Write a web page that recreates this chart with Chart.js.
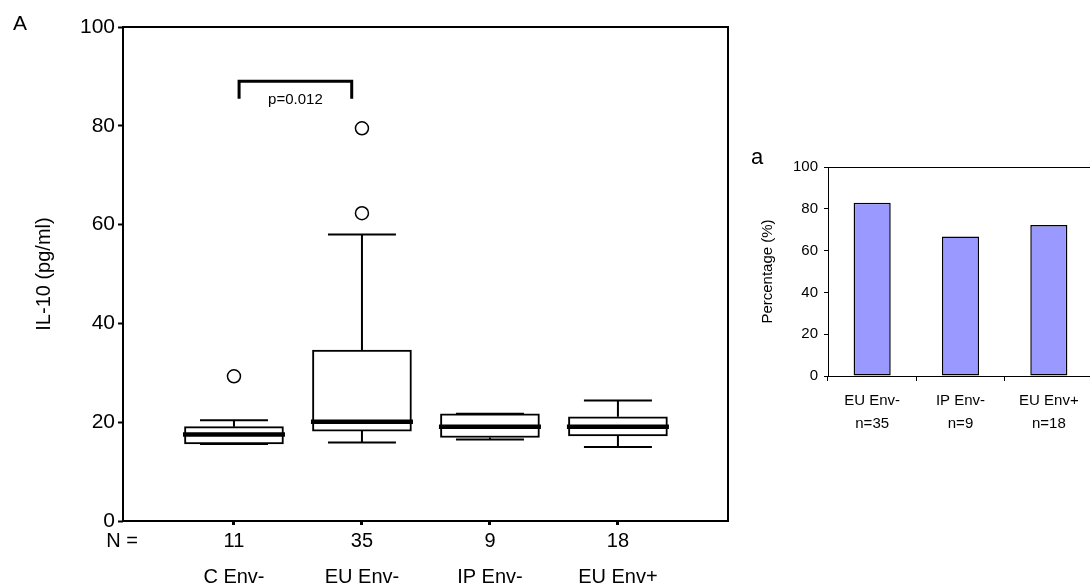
<!DOCTYPE html>
<html>
<head>
<meta charset="utf-8">
<script src="https://cdn.jsdelivr.net/npm/chart.js@4"></script>
<style>
    html, body { margin: 0; padding: 0; background: #fff; overflow: hidden; width: 1090px; height: 588px; }
    #boxChart { position: absolute; left: 0; top: 0; }
    #barChart { position: absolute; left: 740px; top: 140px; }
</style>
</head>
<body>
<canvas id="boxChart" width="740" height="588"></canvas>
<canvas id="barChart" width="360" height="300"></canvas>
<script>
// panel A - IL-10 box plot
const groups = ['C Env-', 'EU Env-', 'IP Env-', 'EU Env+'];
const nCounts = ['11', '35', '9', '18'];
const whiskerLow = [15.6, 15.9, 16.5, 15.0];
const q1 = [15.6, 18.2, 16.9, 17.2];
const median = [17.5, 20.1, 19.1, 19.1];
const q3 = [19.1, 34.6, 21.7, 21.1];
const whiskerHigh = [20.4, 58.0, 21.7, 24.4];
const outliers = [[29.3], [62.3, 79.5], [], []];
const bracketX = [0.04, 0.92];
const bracketY = [89, 85.5];
const pLabel = 'p=0.012';

// panel a - percentage bars
const pctGroups = [['EU Env-', 'n=35'], ['IP Env-', 'n=9'], ['EU Env+', 'n=18']];
const pctValues = [82.9, 66.7, 72.2];

Chart.defaults.font.family = 'Arial, "Liberation Sans", sans-serif';
Chart.defaults.color = '#000';
Chart.defaults.animation = false;

const boxExtras = {
    id: 'boxExtras',
    beforeDatasetsDraw(chart) {
        const { ctx, scales: { x, y } } = chart;
        ctx.save();
        ctx.strokeStyle = '#000';
        ctx.lineWidth = 2;
        groups.forEach((g, i) => {
            const cx = x.getPixelForValue(i);
            const yHi = y.getPixelForValue(whiskerHigh[i]),
                yLo = y.getPixelForValue(whiskerLow[i]);
            ctx.beginPath();
            ctx.moveTo(cx, y.getPixelForValue(q3[i]));
            ctx.lineTo(cx, yHi);
            ctx.moveTo(cx, y.getPixelForValue(q1[i]));
            ctx.lineTo(cx, yLo);
            ctx.moveTo(cx - 34, yHi);
            ctx.lineTo(cx + 34, yHi);
            ctx.moveTo(cx - 34, yLo);
            ctx.lineTo(cx + 34, yLo);
            ctx.stroke();
        });
        ctx.restore();
    },
    afterDatasetsDraw(chart) {
        const { ctx, chartArea: a, scales: { x, y } } = chart;
        ctx.save();
        // medians
        ctx.strokeStyle = '#000';
        ctx.lineWidth = 4.5;
        groups.forEach((g, i) => {
            const cx = x.getPixelForValue(i),
                my = y.getPixelForValue(median[i]);
            ctx.beginPath();
            ctx.moveTo(cx - 51, my);
            ctx.lineTo(cx + 51, my);
            ctx.stroke();
        });
        // frame
        ctx.lineWidth = 2;
        ctx.strokeRect(a.left, a.top, a.right - a.left, a.bottom - a.top);
        // significance bracket
        const bx0 = x.getPixelForValue(bracketX[0]),
            bx1 = x.getPixelForValue(bracketX[1]),
            by0 = y.getPixelForValue(bracketY[0]),
            by1 = y.getPixelForValue(bracketY[1]);
        ctx.lineWidth = 3;
        ctx.beginPath();
        ctx.moveTo(bx0, by1);
        ctx.lineTo(bx0, by0);
        ctx.lineTo(bx1, by0);
        ctx.lineTo(bx1, by1);
        ctx.stroke();
        ctx.fillStyle = '#000';
        ctx.textAlign = 'center';
        ctx.textBaseline = 'middle';
        ctx.font = '15px Arial, "Liberation Sans", sans-serif';
        ctx.fillText(pLabel, (bx0 + bx1) / 2, by1 + 1);
        // labels
        ctx.font = '20px Arial, "Liberation Sans", sans-serif';
        ctx.fillText('N =', 122, 541);
        ctx.font = '21px Arial, "Liberation Sans", sans-serif';
        ctx.fillText('A', 20, 24);
        ctx.restore();
    }
};

new Chart(document.getElementById('boxChart'), {
    type: 'bar',
    data: {
        datasets: [{
            type: 'bar',
            data: groups.map((g, i) => ({ x: i, y: [q1[i], q3[i]] })),
            backgroundColor: '#fff',
            borderColor: '#000',
            borderWidth: 2,
            borderSkipped: false,
            barThickness: 99,
        }, {
            type: 'scatter',
            data: outliers.flatMap((list, i) => list.map(v => ({ x: i, y: v }))),
            pointRadius: 6.5,
            pointBackgroundColor: '#fff',
            pointBorderColor: '#000',
            pointBorderWidth: 1.5,
        }]
    },
    options: {
        responsive: false,
        layout: { padding: { left: 0, top: 27, right: 12, bottom: 0 } },
        plugins: { legend: { display: false }, tooltip: { enabled: false } },
        scales: {
            x: {
                type: 'linear',
                min: -0.867,
                max: 3.86,
                offset: false,
                afterBuildTicks: s => { s.ticks = groups.map((g, i) => ({ value: i })); },
                afterFit: s => { s.height = 67; },
                border: { display: false },
                grid: { offset: false, drawOnChartArea: false, tickLength: 4, tickWidth: 3, tickColor: '#000' },
                ticks: {
                    callback: v => [nCounts[v], '', groups[v]],
                    font: { size: 20, lineHeight: 0.9 },
                    padding: 7,
                    maxRotation: 0,
                    autoSkip: false,
                },
            },
            y: {
                min: 0,
                max: 100,
                afterFit: s => { s.width = 123; },
                border: { display: false },
                grid: { drawOnChartArea: false, tickLength: 5, tickWidth: 2, tickColor: '#000' },
                ticks: { stepSize: 20, font: { size: 21 }, padding: 3 },
                title: {
                    display: true,
                    text: 'IL-10 (pg/ml)',
                    font: { size: 20 },
                    padding: { top: 32, bottom: 0 },
                },
            },
        },
    },
    plugins: [boxExtras],
});

const panelLabel = {
    id: 'panelLabel',
    afterDraw(chart) {
        const ctx = chart.ctx;
        ctx.save();
        ctx.fillStyle = '#000';
        ctx.textAlign = 'center';
        ctx.textBaseline = 'middle';
        ctx.font = '22px Arial, "Liberation Sans", sans-serif';
        ctx.fillText('a', 17, 18);
        ctx.restore();
    }
};

new Chart(document.getElementById('barChart'), {
    type: 'bar',
    data: {
        labels: pctGroups,
        datasets: [{
            data: pctValues,
            backgroundColor: '#9999ff',
            borderColor: '#000',
            borderWidth: 1.5,
            borderSkipped: false,
            barPercentage: 0.42,
            categoryPercentage: 1,
        }]
    },
    options: {
        responsive: false,
        layout: { padding: { left: 0, top: 27, right: 7, bottom: 0 } },
        plugins: { legend: { display: false }, tooltip: { enabled: false } },
        scales: {
            x: {
                afterFit: s => { s.height = 64; },
                border: { color: '#000', width: 1 },
                grid: { drawOnChartArea: false, tickLength: 5, tickColor: '#000' },
                ticks: { font: { size: 15, lineHeight: 1.53 }, padding: 8, maxRotation: 0 },
            },
            y: {
                min: 0,
                max: 100,
                afterFit: s => { s.width = 88; },
                border: { color: '#000', width: 1 },
                grid: {
                    color: c => (c.tick && c.tick.value === 100 ? '#000' : 'rgba(0,0,0,0)'),
                    tickColor: '#000',
                    tickLength: 4,
                },
                ticks: { stepSize: 20, font: { size: 15 }, padding: 6 },
                title: {
                    display: true,
                    text: 'Percentage (%)',
                    font: { size: 15 },
                    padding: { top: 19, bottom: 0 },
                },
            },
        },
    },
    plugins: [panelLabel],
});
</script>
</body>
</html>
